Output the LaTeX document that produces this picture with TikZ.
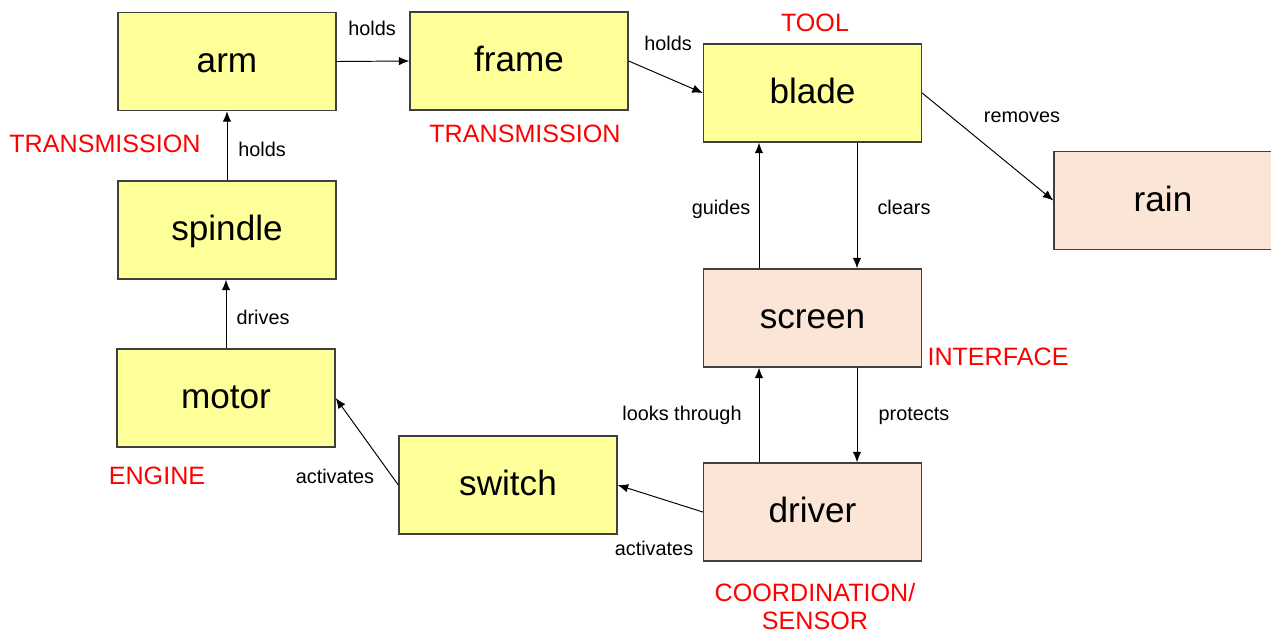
\documentclass[tikz,border=0pt]{standalone}
\usepackage{fontspec}
\setmainfont{Liberation Sans}
\usetikzlibrary{arrows.meta,calc}
\definecolor{boxyellow}{HTML}{FFFF99}
\definecolor{boxpeach}{HTML}{FBE5D6}
\definecolor{boxline}{HTML}{404040}
\definecolor{tagred}{HTML}{FF0000}
\tikzset{
  box/.style={draw=boxline, line width=0.8pt, minimum width=4.36cm, minimum height=1.96cm, inner sep=0pt, text height=14pt, text depth=2pt, font=\fontsize{20}{24}\selectfont},
  ybox/.style={box, fill=boxyellow},
  pbox/.style={box, fill=boxpeach},
  arr/.style={-{Latex[length=2.1mm,width=1.7mm]}, line width=0.55pt, black},
  lbl/.style={font=\fontsize{11.3}{13}\selectfont, inner sep=0pt, text height=8.1pt, text depth=2.4pt},
  tag/.style={font=\fontsize{14.3}{17}\selectfont, text=tagred, inner sep=0pt, align=center}
}
\begin{document}
\begin{tikzpicture}[x=0.02cm, y=-0.02cm]
\useasboundingbox (0,0) rectangle (1271,633);
% boxes
\node[ybox] (arm) at (227,61.5) {arm};
\node[ybox] (frame) at (519,61) {frame};
\node[ybox] (blade) at (812.5,93) {blade};
\node[pbox] (rain) at (1163,200.5) {rain};
\node[ybox] (spindle) at (227,230) {spindle};
\node[pbox] (screen) at (812.5,318) {screen};
\node[ybox] (motor) at (226,398) {motor};
\node[ybox] (switch) at (508,485) {switch};
\node[pbox] (driver) at (812.5,512) {driver};
% connectors
\draw[arr] (arm.east) -- (frame.west);
\draw[arr] (frame.east) -- (blade.west);
\draw[arr] (blade.east) -- (rain.west);
\draw[arr] (spindle.north) -- (spindle.north |- arm.south);
\draw[arr] (motor.north) -- (motor.north |- spindle.south);
\coordinate (sL) at ($(screen.north)+(-53.5,0)$);
\coordinate (sR) at ($(screen.north)+(44.5,0)$);
\draw[arr] (sL) -- (sL |- blade.south);
\draw[arr] (sR |- blade.south) -- (sR);
\coordinate (dL) at ($(driver.north)+(-53.5,0)$);
\coordinate (dR) at ($(driver.north)+(44.5,0)$);
\draw[arr] (dL) -- (dL |- screen.south);
\draw[arr] (dR |- screen.south) -- (dR);
\draw[arr] (driver.west) -- (switch.east);
\draw[arr] (switch.west) -- (motor.east);
% connector labels
\node[lbl] (l1) at (372,30) {holds};
\node[lbl] (l2) at (668,45) {holds};
\node[lbl] (l3) at (1022,117) {removes};
\node[lbl] (l4) at (262,151) {holds};
\node[lbl] (l5) at (721,209) {guides};
\node[lbl] (l6) at (904,209) {clears};
\node[lbl] (l7) at (263,319) {drives};
\node[lbl] (l8) at (682,415) {looks through};
\node[lbl] (l9) at (914,415) {protects};
\node[lbl] (l10) at (335,478) {activates};
\node[lbl] (l11) at (654,550) {activates};
% red tags
\node[tag] (t1) at (815,23) {TOOL};
\node[tag] (t2) at (105,144) {TRANSMISSION};
\node[tag] (t3) at (525,134) {TRANSMISSION};
\node[tag] (t4) at (998,357) {INTERFACE};
\node[tag] (t5) at (157,476) {ENGINE};
\node[tag] (t6a) at (815,593) {COORDINATION/};
\node[tag] (t6b) at (815,621) {SENSOR};
\end{tikzpicture}
\end{document}
